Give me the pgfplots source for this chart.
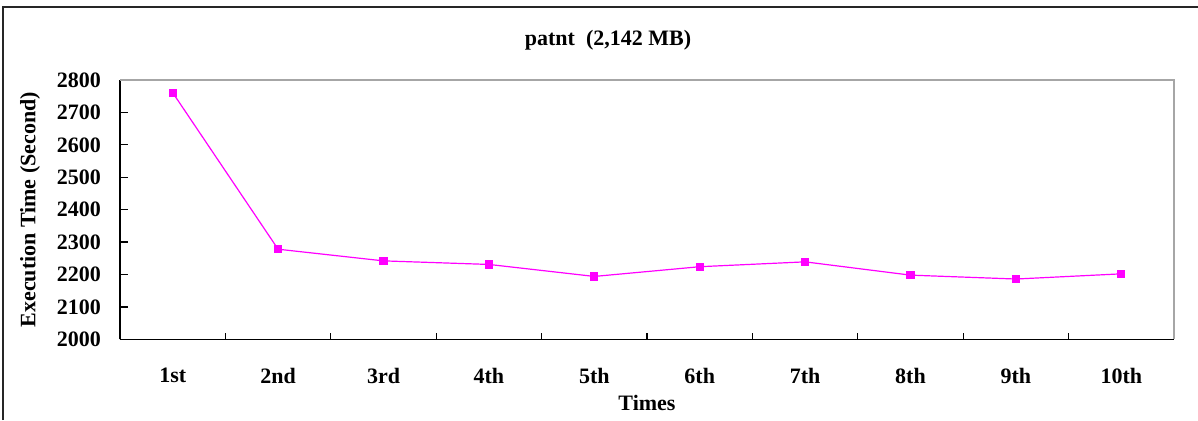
\documentclass[border=0pt]{standalone}
\usepackage{fontspec}
\setmainfont{Liberation Serif}
\usepackage{pgfplots}
\pgfplotsset{compat=1.18}
\begin{document}
\begin{tikzpicture}
\useasboundingbox (0,0) rectangle (599pt,210pt);
\draw[line width=0.9pt, black!85] (1.5pt,0) -- (1.5pt,206.5pt) -- (599pt,206.5pt);
\node[font=\fontsize{11}{13}\selectfont\bfseries] at (304pt,190pt) {patnt\ \ (2,142 MB)};
\begin{axis}[
  at={(60pt,40.35pt)}, anchor=south west,
  scale only axis, width=527pt, height=129.65pt,
  xmin=0.5, xmax=10.5, ymin=2000, ymax=2800,
  axis x line*=bottom, axis y line*=left,
  axis line style={black, line width=0.8pt},
  xtick={1,...,10},
  xticklabels={1st,2nd,3rd,4th,5th,6th,7th,8th,9th,10th},
  major x tick style={draw=none},
  minor xtick={0.5,1.5,...,10.5},
  minor tick length=3pt,
  minor x tick style={black, line width=0.6pt},
  ytick={2000,2100,2200,2300,2400,2500,2600,2700,2800},
  yticklabels={2000,2100,2200,2300,2400,2500,2600,2700,2800},
  major tick length=4pt,
  y tick style={black, line width=0.6pt},
  tick align=inside,
  ticklabel style={font=\fontsize{11}{13}\selectfont\bfseries},
  xticklabel style={yshift=-11pt},
  yticklabel style={xshift=-6pt},
  xlabel={Times},
  ylabel={Execution Time (Second)},
  label style={font=\fontsize{11}{13}\selectfont\bfseries},
  xlabel style={at={(axis description cs:0.5,-0.2457)}, anchor=center},
  ylabel style={at={(axis description cs:-0.0854,0.5)}, anchor=center},
  clip=false,
]
\draw[gray!70, line width=0.8pt] (rel axis cs:0,1) -- (rel axis cs:1,1) -- (rel axis cs:1,0);
\addplot[color={rgb,255:red,255;green,0;blue,255}, line width=0.6pt, mark=square*, mark size=1.75pt,
  mark options={fill={rgb,255:red,255;green,0;blue,255}}] coordinates {
  (1,2761) (2,2278) (3,2242) (4,2231) (5,2194) (6,2224) (7,2239) (8,2198) (9,2186) (10,2202)
};
\end{axis}
\end{tikzpicture}
\end{document}
